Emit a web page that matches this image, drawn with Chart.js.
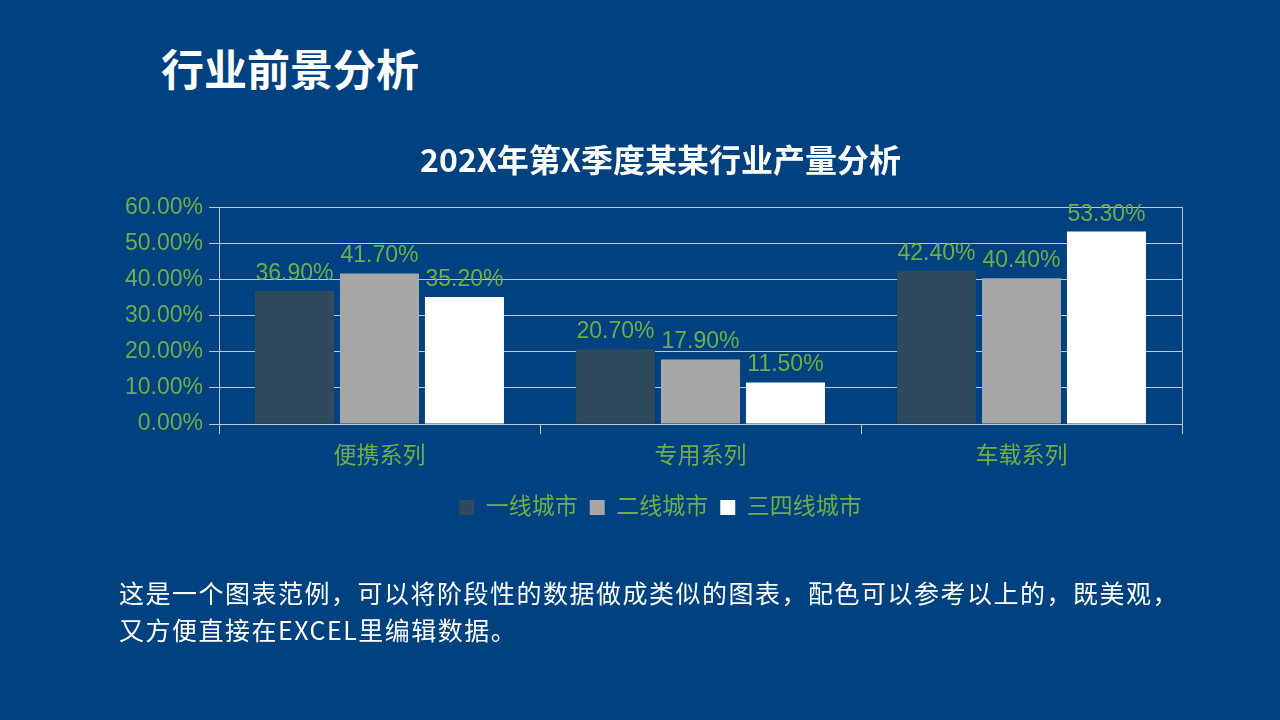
<!DOCTYPE html>
<html>
<head>
<meta charset="utf-8">
<script src="https://cdn.jsdelivr.net/npm/chart.js@4/dist/chart.umd.min.js"></script>
<style>
  html, body { margin: 0; padding: 0; }
  body {
    width: 1280px; height: 720px; overflow: hidden; position: relative;
    background: #004280;
    font-family: 'Noto Sans CJK SC', sans-serif;
  }
  #zhuti {
    position: absolute; left: 161px; top: 40px;
    font-size: 43px; font-weight: bold; color: #fff; line-height: 54px;
  }
  #shuoming {
    position: absolute; left: 119px; top: 574px;
    font-size: 25px; letter-spacing: 1.5px; color: #fff; line-height: 37px;
  }
  #lienzo-box { position: absolute; left: 0; top: 0; width: 1280px; height: 720px; }
</style>
</head>
<body>
<div id="zhuti">行业前景分析</div>
<div id="lienzo-box"><canvas id="grafico"></canvas></div>
<div id="shuoming">这是一个图表范例，可以将阶段性的数据做成类似的图表，配色可以参考以上的，既美观，<br>又方便直接在EXCEL里编辑数据。</div>
<script>
// Datos del gráfico
const categorias = ['便携系列', '专用系列', '车载系列'];
const yiXian = [36.9, 20.7, 42.4];
const erXian = [41.7, 17.9, 40.4];
const sanSiXian = [35.2, 11.5, 53.3];
const marcasEje = [0, 10, 20, 30, 40, 50, 60];

const verde = '#70AD47';
const lineaRejilla = '#BFC7D5';
const fuenteNum = "'Liberation Sans', 'Noto Sans CJK SC', sans-serif";

// Etiquetas encima de cada barra
const etiquetasBarras = {
    id: 'etiquetasBarras',
    afterDatasetsDraw(chart) {
        const ctx = chart.ctx;
        ctx.save();
        ctx.font = '23px ' + fuenteNum;
        ctx.fillStyle = verde;
        ctx.textAlign = 'center';
        ctx.textBaseline = 'alphabetic';
        chart.data.datasets.forEach((ds, i) => {
            chart.getDatasetMeta(i).data.forEach((bar, j) => {
                ctx.fillText(ds.data[j].toFixed(2) + '%', bar.x, bar.y - 11);
            });
        });
        ctx.restore();
    }
};

new Chart(document.getElementById('grafico'), {
    type: 'bar',
    data: {
        labels: categorias,
        datasets: [
            { label: '一线城市', data: yiXian, backgroundColor: '#2E4A5C' },
            { label: '二线城市', data: erXian, backgroundColor: '#A6A6A6' },
            { label: '三四线城市', data: sanSiXian, backgroundColor: '#FFFFFF' }
        ]
    },
    options: {
        responsive: true,
        maintainAspectRatio: false,
        animation: false,
        categoryPercentage: 0.794,
        barPercentage: 0.93,
        layout: { padding: { left: 115, right: 74, top: 117, bottom: 191 } },
        plugins: {
            title: {
                display: true,
                text: '202X年第X季度某某行业产量分析',
                color: '#FFFFFF',
                font: { family: "'Noto Sans CJK SC', sans-serif", size: 32, weight: 'bold' },
                padding: { top: 24, bottom: 28 }
            },
            legend: {
                position: 'bottom',
                labels: {
                    color: verde,
                    font: { family: fuenteNum, size: 23 },
                    boxWidth: 15,
                    boxHeight: 15,
                    padding: 12
                }
            },
            tooltip: { enabled: false }
        },
        scales: {
            x: {
                grid: { drawOnChartArea: false, color: lineaRejilla, tickLength: 10 },
                border: { color: lineaRejilla },
                ticks: { color: verde, font: { family: fuenteNum, size: 23 }, padding: 9 },
                afterFit(scale) { scale.height = 60; }
            },
            y: {
                min: 0,
                max: 60,
                afterBuildTicks(scale) { scale.ticks = marcasEje.map(v => ({ value: v })); },
                grid: { color: lineaRejilla, tickLength: 10 },
                border: { color: lineaRejilla },
                ticks: {
                    color: verde,
                    font: { family: fuenteNum, size: 23 },
                    padding: 6,
                    callback: v => v.toFixed(2) + '%'
                },
                afterFit(scale) { scale.width = 104; }
            },
            derecha: {
                position: 'right',
                grid: { drawOnChartArea: false, drawTicks: false },
                border: { color: lineaRejilla },
                ticks: { display: false },
                afterFit(scale) { scale.width = 24; }
            }
        }
    },
    plugins: [etiquetasBarras]
});
</script>
</body>
</html>
